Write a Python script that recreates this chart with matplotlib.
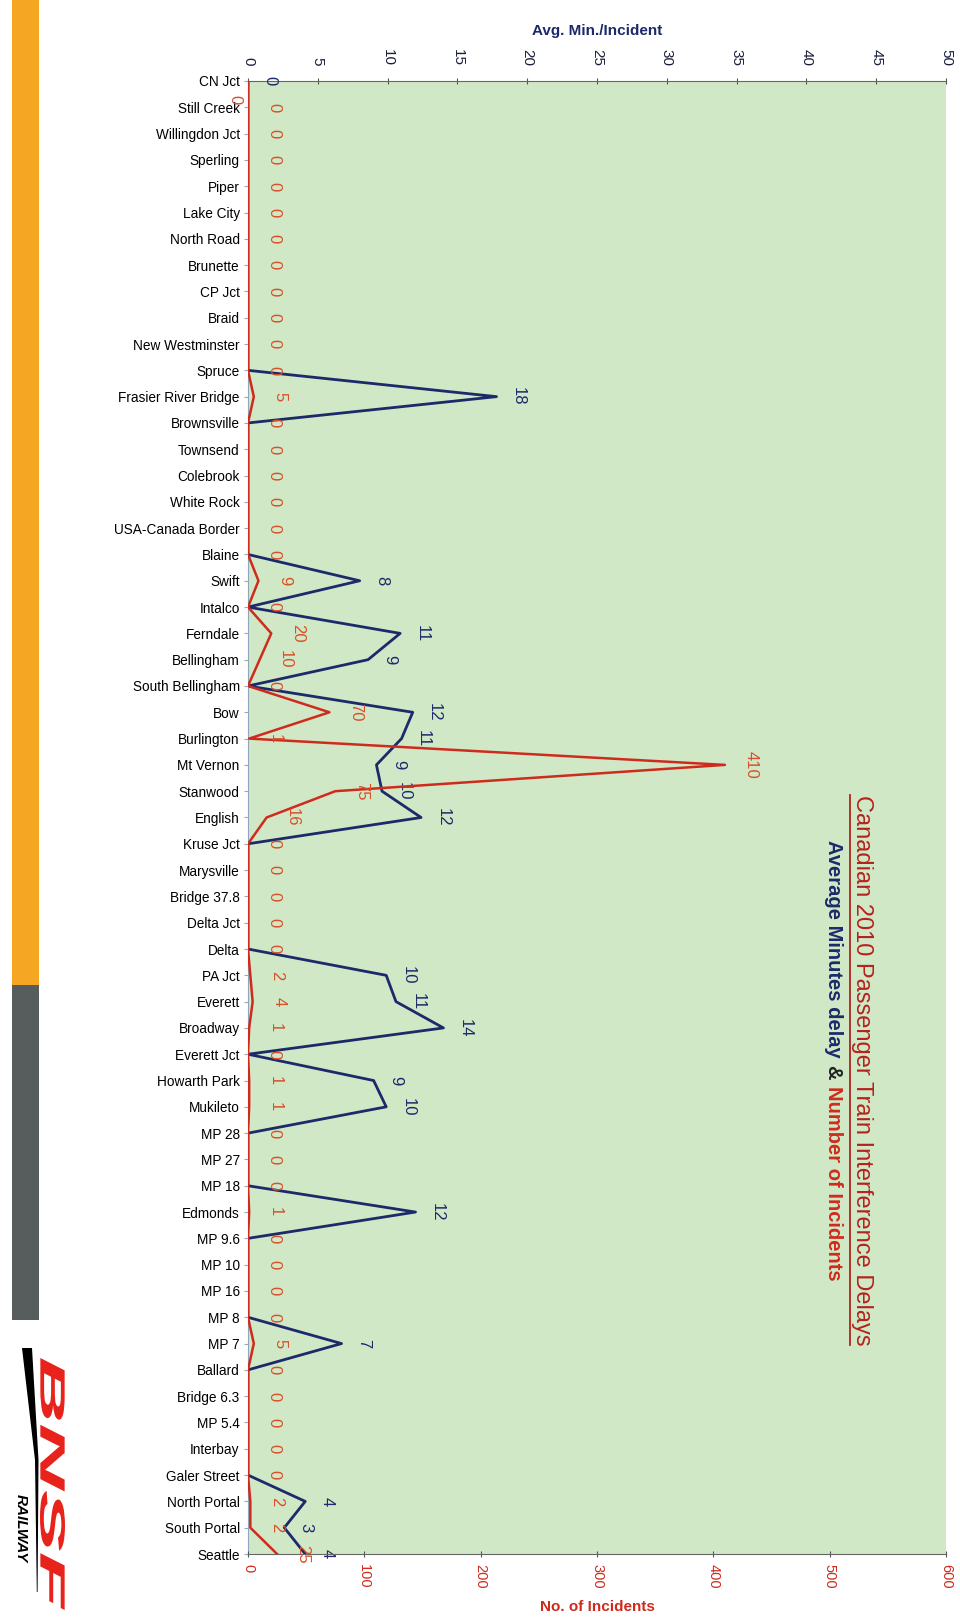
import matplotlib.pyplot as plt
from matplotlib.patches import Rectangle, PathPatch, Polygon
from matplotlib.lines import Line2D
from matplotlib.textpath import TextPath
from matplotlib.font_manager import FontProperties
from matplotlib.transforms import Affine2D

plt.rcParams['font.family'] = ['Liberation Sans', 'DejaVu Sans']

# --- data (top of track = CN Jct, bottom = Seattle) ---
stations = ["CN Jct", "Still Creek", "Willingdon Jct", "Sperling", "Piper", "Lake City",
            "North Road", "Brunette", "CP Jct", "Braid", "New Westminster", "Spruce",
            "Frasier River Bridge", "Brownsville", "Townsend", "Colebrook", "White Rock",
            "USA-Canada Border", "Blaine", "Swift", "Intalco", "Ferndale", "Bellingham",
            "South Bellingham", "Bow", "Burlington", "Mt Vernon", "Stanwood", "English",
            "Kruse Jct", "Marysville", "Bridge 37.8", "Delta Jct", "Delta", "PA Jct",
            "Everett", "Broadway", "Everett Jct", "Howarth Park", "Mukileto", "MP 28",
            "MP 27", "MP 18", "Edmonds", "MP 9.6", "MP 10", "MP 16", "MP 8", "MP 7",
            "Ballard", "Bridge 6.3", "MP 5.4", "Interbay", "Galer Street", "North Portal",
            "South Portal", "Seattle"]

avg_minutes = [0, 0, 0, 0, 0, 0, 0, 0, 0, 0, 0, 0,
               17.8, 0, 0, 0, 0, 0, 0, 8, 0, 10.9, 8.6,
               0, 11.8, 11, 9.2, 9.6, 12.4,
               0, 0, 0, 0, 0, 9.9,
               10.6, 14, 0, 9, 9.9, 0,
               0, 0, 12, 0, 0, 0, 0, 6.7,
               0, 0, 0, 0, 0, 4.1,
               2.6, 4.1]

incidents = [0, 0, 0, 0, 0, 0, 0, 0, 0, 0, 0, 0,
             5, 0, 0, 0, 0, 0, 0, 9, 0, 20, 10,
             0, 70, 1, 410, 75, 16,
             0, 0, 0, 0, 0, 2,
             4, 1, 0, 1, 1, 0,
             0, 0, 1, 0, 0, 0, 0, 5,
             0, 0, 0, 0, 0, 2,
             2, 25]

minute_ticks = [0, 5, 10, 15, 20, 25, 30, 35, 40, 45, 50]
incident_ticks = [0, 100, 200, 300, 400, 500, 600]

W, H = 960, 1617
NAVY = '#1c2a6a'
RED = '#cf2b1d'
LABEL_RED = '#d8502a'
GREEN = '#d1e8c7'

fig = plt.figure(figsize=(W / 100, H / 100), dpi=100)

# side banner
fig.add_artist(Rectangle((12 / W, 1 - 985 / H), 27 / W, 985 / H,
                         transform=fig.transFigure, color='#f5a623', lw=0))
fig.add_artist(Rectangle((12 / W, 1 - 1320 / H), 27 / W, 335 / H,
                         transform=fig.transFigure, color='#575c5d', lw=0))

# axes: ax = minutes (top axis), ax2 = incidents (bottom axis)
ax = fig.add_axes([248 / W, 1 - 1554 / H, (946 - 248) / W, (1554 - 81) / H])
ax.set_facecolor(GREEN)
ax2 = ax.twiny()

ypos = list(range(len(stations)))

ax.plot(avg_minutes, ypos, color=NAVY, lw=2, zorder=2)
ax2.plot(incidents, ypos, color=RED, lw=1.8, zorder=3)

lab_kw = dict(textcoords='offset pixels', rotation=270, ha='center', va='center',
              fontsize=12, annotation_clip=False, zorder=5)
for i, v in enumerate(avg_minutes):
    if v > 0 or i == 0:
        ax.annotate(f"{v:.0f}", (v, i), xytext=(22, 0), color=NAVY, **lab_kw)

for i, v in enumerate(incidents):
    # CN Jct label got dragged next to the axis, by Still Creek
    off = (-13, -19) if i == 0 else (26, 0)
    ax2.annotate(f"{v}", (v, i), xytext=off, color=LABEL_RED, **lab_kw)

ax.set_ylim(len(stations) - 1, 0)
ax.set_yticks(ypos, stations)
ax.tick_params(axis='y', length=3, color='#9aa8b4', pad=3, labelsize=9.8, labelcolor='black')

ax.set_xlim(0, 50)
ax.xaxis.tick_top()
ax.xaxis.set_label_position('top')
ax.set_xticks(minute_ticks, [str(t) for t in minute_ticks])
ax.tick_params(axis='x', direction='inout', length=5, color='#555555', pad=8.5,
               labelsize=11, labelcolor='#1a1f3c', labelrotation=270)
ax.set_xlabel("Avg. Min./Incident", color=NAVY, fontsize=11, fontweight='bold', labelpad=10)

ax2.set_xlim(0, 600)
ax2.xaxis.tick_bottom()
ax2.xaxis.set_label_position('bottom')
ax2.set_xticks(incident_ticks, [str(t) for t in incident_ticks])
ax2.tick_params(axis='x', direction='inout', length=5, color='#555555', pad=5,
                labelsize=10.5, labelcolor=RED, labelrotation=270)
ax2.set_xlabel("No. of Incidents", color=RED, fontsize=11, fontweight='bold', labelpad=8)

for s in ['right', 'bottom']:
    ax.spines[s].set_visible(False)
ax.spines['top'].set_color('#666666')
ax.spines['left'].set_color('#8fa6b6')
for s in ['right', 'top', 'left']:
    ax2.spines[s].set_visible(False)
ax2.spines['bottom'].set_color('#666666')

# titles (rotated, reading top to bottom)
fig.canvas.draw()
r = fig.canvas.get_renderer()
title = fig.text(862 / W, (H - 1070) / H, "Canadian 2010 Passenger Train Interference Delays",
                 rotation=270, ha='center', va='center', fontsize=17, color='#b3231b')
bb = title.get_window_extent(r)
fig.add_artist(Line2D([(bb.x0 - 1) / W] * 2, [bb.y0 / H, bb.y1 / H],
                      transform=fig.transFigure, color='#b3231b', lw=1.3))

y = H - 840
parts = [("Average Minutes delay", NAVY), ("&", '#222222'), ("Number of Incidents", RED)]
for s, c in parts:
    t = fig.text(833 / W, y / H, s, rotation=270, ha='center', va='top',
                 fontsize=14.5, fontweight='bold', color=c)
    y -= t.get_window_extent(r).height + 7

# BNSF logo
fp = FontProperties(family='Liberation Sans', weight='bold', style='italic')
tp = TextPath((0, 0), "BNSF", size=1, prop=fp)
ex = tp.get_extents()
L, T = 252, 25
tr = (Affine2D().translate(-ex.x0, -ex.y0).scale(L / ex.width, T / ex.height)
      .rotate_deg(-90).translate(40, H - 1358))
fig.add_artist(PathPatch(tp, transform=tr, color='#e8231c', lw=0))
sw = [(22, 1348), (32, 1348), (38.5, 1460), (37.6, 1592), (36.8, 1592), (35, 1460)]
fig.add_artist(Polygon([(x / W, 1 - y_ / H) for x, y_ in sw], closed=True,
                       transform=fig.transFigure, color='black', lw=0))
fig.text(21 / W, 1 - 1528 / H, "RAILWAY", rotation=270, ha='center', va='center',
         fontsize=11, fontweight='bold', style='italic', color='black')

fig.savefig('out.png', dpi=100)
